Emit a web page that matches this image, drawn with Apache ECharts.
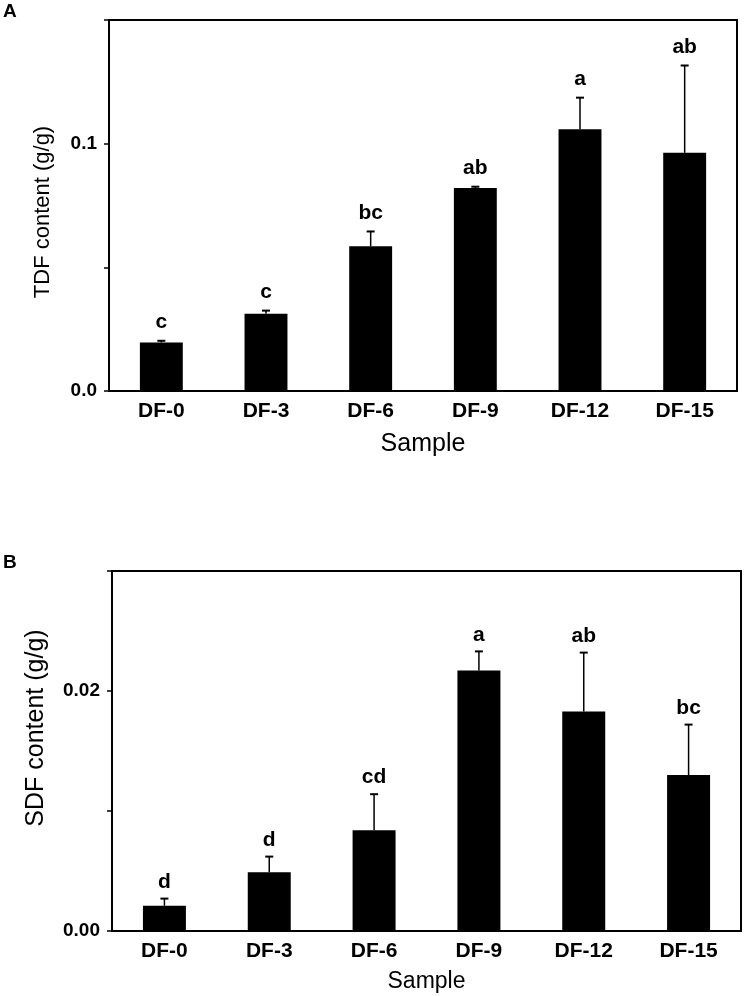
<!DOCTYPE html>
<html>
<head>
<meta charset="utf-8">
<script src="https://cdn.jsdelivr.net/npm/echarts@6/dist/echarts.min.js"></script>
<style>
html,body{margin:0;padding:0;background:#fff;}
#chart{width:745px;height:996px;}
</style>
</head>
<body>
<div id="chart"></div>
<script>
var categories = ['DF-0', 'DF-3', 'DF-6', 'DF-9', 'DF-12', 'DF-15'];

var tdfMean = [0.0196, 0.0312, 0.0585, 0.0821, 0.1058, 0.0963];
var tdfErr = [0.0007, 0.0013, 0.0060, 0.0005, 0.0128, 0.0353];
var tdfLetters = ['c', 'c', 'bc', 'ab', 'a', 'ab'];

var sdfMean = [0.0021, 0.0049, 0.0084, 0.0217, 0.0183, 0.0130];
var sdfErr = [0.0006, 0.0013, 0.0030, 0.0016, 0.0049, 0.0042];
var sdfLetters = ['d', 'd', 'cd', 'a', 'ab', 'bc'];

var tdfTickValues = [0, 0.1];
var tdfTickLabels = ['0.0', '0.1'];
var sdfTickValues = [0, 0.02];
var sdfTickLabels = ['0.00', '0.02'];

var FONT = '"Liberation Sans", Arial, sans-serif';

function tickFormatter(values, labels) {
  return function (v) {
    for (var i = 0; i < values.length; i++) {
      if (Math.abs(v - values[i]) < 1e-9) return labels[i];
    }
    return '';
  };
}

function errData(means, errs) {
  return means.map(function (m, i) { return [i, m, errs[i]]; });
}

function errRenderer(letters, gap) {
  return function (params, api) {
    var i = params.dataIndex;
    var base = api.coord([api.value(0), api.value(1)]);
    var top = api.coord([api.value(0), api.value(1) + api.value(2)]);
    return {
      type: 'group',
      children: [
        { type: 'line', shape: { x1: base[0], y1: base[1], x2: top[0], y2: top[1] },
          style: { stroke: '#000', lineWidth: 1.5 } },
        { type: 'line', shape: { x1: top[0] - 4, y1: top[1], x2: top[0] + 4, y2: top[1] },
          style: { stroke: '#000', lineWidth: 2 } },
        { type: 'text', x: top[0], y: top[1] - gap,
          style: { text: letters[i], fill: '#000', font: 'bold 21px ' + FONT,
                   align: 'center', verticalAlign: 'bottom' } }
      ]
    };
  };
}

function xAxisCfg(gi, nameGap, nameSize) {
  return {
    gridIndex: gi, type: 'category', data: categories,
    axisLine: { lineStyle: { color: '#000', width: 2 } },
    axisTick: { show: false },
    axisLabel: { color: '#000', fontSize: 21, fontWeight: 'bold', fontFamily: FONT, margin: 10 },
    name: 'Sample', nameLocation: 'middle', nameGap: nameGap,
    nameTextStyle: { color: '#000', fontSize: nameSize, fontFamily: FONT }
  };
}

function yAxisCfg(gi, max, interval, tv, tl, name, nameGap, nameSize, namePad) {
  return {
    gridIndex: gi, type: 'value', min: 0, max: max, interval: interval,
    axisLine: { show: true, lineStyle: { color: '#000', width: 2 } },
    axisTick: { show: true, length: 5, lineStyle: { color: '#000', width: 1.5 } },
    splitLine: { show: false },
    axisLabel: { color: '#000', fontSize: 19, fontWeight: 'bold', fontFamily: FONT, margin: 12,
                 formatter: tickFormatter(tv, tl) },
    name: name, nameLocation: 'middle', nameGap: nameGap, nameRotate: 90,
    nameTextStyle: { color: '#000', fontSize: nameSize, fontFamily: FONT, padding: namePad }
  };
}

var chart = echarts.init(document.getElementById('chart'), null, { renderer: 'canvas' });
chart.setOption({
  backgroundColor: '#fff',
  animation: false,
  title: [
    { text: 'A', left: 3, top: 2, padding: 0, textStyle: { fontSize: 19, fontWeight: 'bold', color: '#000', fontFamily: FONT } },
    { text: 'B', left: 3, top: 553, padding: 0, textStyle: { fontSize: 19, fontWeight: 'bold', color: '#000', fontFamily: FONT } }
  ],
  grid: [
    { left: 109, top: 20, width: 628, height: 371, show: true, borderColor: '#000', borderWidth: 2, backgroundColor: 'transparent' },
    { left: 112, top: 571, width: 629, height: 360, show: true, borderColor: '#000', borderWidth: 2, backgroundColor: 'transparent' }
  ],
  xAxis: [xAxisCfg(0, 41, 25), xAxisCfg(1, 39, 23)],
  yAxis: [
    yAxisCfg(0, 0.15, 0.05, tdfTickValues, tdfTickLabels, 'TDF content (g/g)', 55, 22, [0, 13, 0, 0]),
    yAxisCfg(1, 0.03, 0.01, sdfTickValues, sdfTickLabels, 'SDF content (g/g)', 63, 25, [0, 0, 0, 46])
  ],
  series: [
    { type: 'bar', xAxisIndex: 0, yAxisIndex: 0, data: tdfMean, barWidth: '41%',
      itemStyle: { color: '#000' } },
    { type: 'custom', xAxisIndex: 0, yAxisIndex: 0, data: errData(tdfMean, tdfErr),
      renderItem: errRenderer(tdfLetters, 8), z: 3 },
    { type: 'bar', xAxisIndex: 1, yAxisIndex: 1, data: sdfMean, barWidth: '41%',
      itemStyle: { color: '#000' } },
    { type: 'custom', xAxisIndex: 1, yAxisIndex: 1, data: errData(sdfMean, sdfErr),
      renderItem: errRenderer(sdfLetters, 6), z: 3 }
  ]
});
</script>
</body>
</html>
